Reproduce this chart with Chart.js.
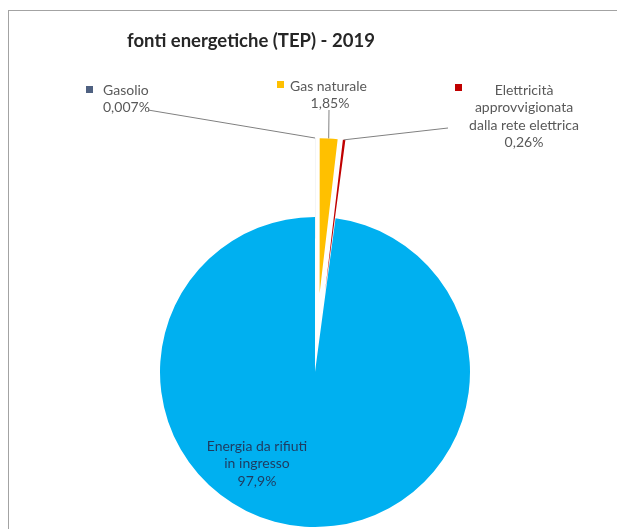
<!DOCTYPE html>
<html>
<head>
<meta charset="utf-8">
<script src="https://cdn.jsdelivr.net/npm/chart.js@4.4.1/dist/chart.umd.min.js"></script>
<style>
  html, body { margin: 0; padding: 0; background: #fff; overflow: hidden; }
  #frame { position: absolute; left: 8px; top: 10px; width: 700px; height: 600px; border: 1px solid #a3a3a3; }
  #c { position: absolute; left: 0; top: 0; }
</style>
</head>
<body>
<div id="frame"></div>
<canvas id="c" width="617" height="529"></canvas>
<script>
// fonti energetiche (TEP) - 2019 — pie with exploded small slices and callout labels.

const title = 'fonti energetiche (TEP) - 2019';
const categories = [
  ['Gasolio'],
  ['Gas naturale'],
  ['Elettricità', 'approvvigionata', 'dalla rete elettrica'],
  ['Energia da rifiuti', 'in ingresso'],
];
const shares = [0.007, 1.85, 0.26, 97.9]; // percent
const colours = ['#4f6181', '#FFC000', '#C00000', '#00B0F0'];
const EXPLODE = [79, 79, 79, 0]; // px, Excel-style point explosion

const pct = (v) => String(v).replace('.', ',') + '%';

// Excel explodes a slice by sliding it out along its bisector at full radius.
// Chart.js' own `offset` also grows the radius, so do the shift by hand.
const explodePlugin = {
  id: 'explode',
  afterUpdate(chart) {
    const meta = chart.getDatasetMeta(0);
    meta.data.forEach((arc, i) => {
      const d = EXPLODE[i];
      if (!d || arc._exploded) return;
      const base = arc.draw;
      arc.draw = function (ctx, area) {
        const mid = (this.startAngle + this.endAngle) / 2;
        ctx.save();
        ctx.translate(Math.cos(mid) * d, Math.sin(mid) * d);
        base.call(this, ctx, area);
        ctx.restore();
      };
      arc._exploded = true;
    });
  },
};

// where each callout sits: marker box, text anchor, alignment, leader start
const callouts = [
  { key: [86, 86], x: 103, y: 90, align: 'left', from: [148, 110] },
  { key: [277, 81], x: 290, y: 86, align: 'left', valueX: 330, from: [329, 110] },
  { key: [455, 84], x: 524, y: 90, align: 'center', from: [448, 128] },
  { x: 257, y: 446, align: 'center', inside: true },
];

const labelsPlugin = {
  id: 'labels',
  afterDraw(chart) {
    const ctx = chart.ctx;
    const meta = chart.getDatasetMeta(0);
    ctx.save();
    ctx.fillStyle = '#262626';
    ctx.font = 'bold 18.5px Lato, sans-serif';
    ctx.textAlign = 'center';
    ctx.textBaseline = 'middle';
    ctx.fillText(title, 251, 41);

    ctx.font = '14px Lato, sans-serif';
    const lh = 17.5;
    meta.data.forEach((arc, i) => {
      const c = callouts[i];
      const lines = [...categories[i], pct(shares[i])];
      if (c.from) {
        const mid = (arc.startAngle + arc.endAngle) / 2;
        const r = EXPLODE[i] + arc.outerRadius;
        ctx.strokeStyle = '#808080';
        ctx.lineWidth = 1;
        ctx.beginPath();
        ctx.moveTo(c.from[0], c.from[1]);
        ctx.lineTo(arc.x + Math.cos(mid) * r, arc.y + Math.sin(mid) * r);
        ctx.stroke();
      }
      if (c.key) {
        ctx.fillStyle = colours[i];
        ctx.fillRect(c.key[0], c.key[1], 7, 7);
      }
      ctx.fillStyle = c.inside ? '#1f3a5f' : '#595959';
      lines.forEach((ln, k) => {
        let x = c.x, align = c.align;
        if (k === lines.length - 1 && c.valueX) { x = c.valueX; align = 'center'; }
        ctx.textAlign = align;
        ctx.fillText(ln, x, c.y + k * lh);
      });
    });
    ctx.restore();
  },
};

new Chart(document.getElementById('c'), {
  type: 'pie',
  data: {
    labels: categories,
    datasets: [{
      data: shares,
      backgroundColor: colours,
      borderWidth: 0,
      hoverOffset: 0,
      clip: false,
    }],
  },
  options: {
    responsive: false,
    animation: false,
    radius: 155,
    layout: { padding: { left: 13, right: 0, top: 215, bottom: 0 } },
    plugins: {
      legend: { display: false },
      tooltip: { enabled: false },
    },
  },
  plugins: [explodePlugin, labelsPlugin],
});
</script>
</body>
</html>
